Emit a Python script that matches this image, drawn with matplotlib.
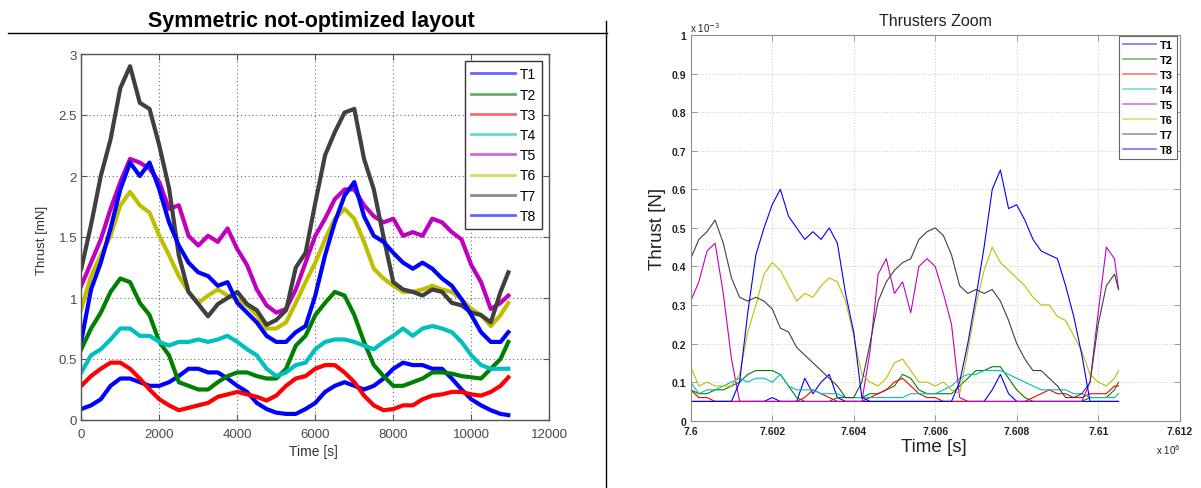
import matplotlib
matplotlib.use("Agg")
import matplotlib.pyplot as plt
import numpy as np
from matplotlib.lines import Line2D

plt.rcParams["font.family"] = ["Liberation Sans", "DejaVu Sans"]

# ---------------- left panel: full simulation, thrust in mN ----------------
TIME_L = [0, 250, 500, 750, 1000, 1250, 1500, 1750, 2000, 2250, 2500, 2750,
          3000, 3250, 3500, 3750, 4000, 4250, 4500, 4750, 5000, 5250, 5500,
          5750, 6000, 6250, 6500, 6750, 7000, 7250, 7500, 7750, 8000, 8250,
          8500, 8750, 9000, 9250, 9500, 9750, 10000, 10250, 10500, 10750, 10950]

T1_L = [0.09, 0.12, 0.17, 0.28, 0.34, 0.34, 0.31, 0.28, 0.28, 0.31, 0.36, 0.42,
        0.42, 0.39, 0.39, 0.34, 0.28, 0.23, 0.14, 0.09, 0.06, 0.05, 0.05, 0.09,
        0.14, 0.23, 0.28, 0.31, 0.28, 0.25, 0.28, 0.34, 0.42, 0.47, 0.45, 0.45,
        0.42, 0.42, 0.34, 0.25, 0.17, 0.12, 0.08, 0.05, 0.04]
T2_L = [0.58, 0.75, 0.88, 1.05, 1.16, 1.13, 0.96, 0.86, 0.64, 0.53, 0.31, 0.28,
        0.25, 0.25, 0.31, 0.36, 0.39, 0.39, 0.36, 0.34, 0.34, 0.42, 0.61, 0.69,
        0.86, 0.96, 1.05, 1.02, 0.86, 0.64, 0.45, 0.36, 0.28, 0.28, 0.31, 0.34,
        0.39, 0.39, 0.38, 0.36, 0.35, 0.34, 0.42, 0.50, 0.64]
T3_L = [0.28, 0.36, 0.42, 0.47, 0.47, 0.42, 0.34, 0.25, 0.17, 0.12, 0.08, 0.10,
        0.12, 0.14, 0.19, 0.21, 0.23, 0.21, 0.19, 0.16, 0.20, 0.28, 0.34, 0.36,
        0.42, 0.45, 0.45, 0.39, 0.31, 0.20, 0.12, 0.08, 0.09, 0.12, 0.12, 0.17,
        0.20, 0.21, 0.23, 0.23, 0.21, 0.20, 0.23, 0.28, 0.35]
T4_L = [0.39, 0.53, 0.58, 0.66, 0.75, 0.75, 0.69, 0.69, 0.64, 0.61, 0.64, 0.64,
        0.66, 0.64, 0.66, 0.69, 0.64, 0.58, 0.53, 0.42, 0.36, 0.39, 0.45, 0.47,
        0.58, 0.64, 0.66, 0.66, 0.64, 0.61, 0.58, 0.64, 0.69, 0.75, 0.69, 0.75,
        0.77, 0.75, 0.72, 0.64, 0.53, 0.45, 0.42, 0.42, 0.42]
T5_L = [1.10, 1.29, 1.48, 1.73, 1.95, 2.14, 2.11, 2.06, 1.95, 1.73, 1.76, 1.51,
        1.43, 1.51, 1.46, 1.57, 1.40, 1.27, 1.07, 0.94, 0.88, 0.91, 1.07, 1.29,
        1.51, 1.65, 1.81, 1.89, 1.89, 1.76, 1.67, 1.62, 1.65, 1.51, 1.54, 1.51,
        1.65, 1.62, 1.54, 1.48, 1.27, 1.13, 0.91, 0.96, 1.02]
T6_L = [0.91, 1.18, 1.35, 1.51, 1.76, 1.87, 1.76, 1.70, 1.51, 1.35, 1.18, 1.05,
        0.96, 1.02, 1.07, 1.02, 0.99, 0.94, 0.86, 0.75, 0.75, 0.80, 0.96, 1.13,
        1.29, 1.48, 1.65, 1.73, 1.65, 1.46, 1.24, 1.16, 1.10, 1.05, 1.05, 1.07,
        1.10, 1.07, 1.05, 0.99, 0.91, 0.86, 0.77, 0.86, 0.96]
T7_L = [1.24, 1.60, 2.00, 2.30, 2.72, 2.90, 2.60, 2.55, 2.25, 1.90, 1.35, 1.05,
        0.95, 0.85, 0.95, 1.00, 1.05, 0.95, 0.90, 0.78, 0.82, 0.90, 1.25, 1.37,
        1.78, 2.17, 2.36, 2.52, 2.55, 2.14, 1.89, 1.50, 1.13, 1.07, 1.05, 1.02,
        1.07, 1.05, 0.96, 0.94, 0.88, 0.86, 0.80, 1.05, 1.21]
T8_L = [0.65, 1.07, 1.29, 1.57, 1.89, 2.11, 2.00, 2.11, 1.89, 1.62, 1.43, 1.29,
        1.21, 1.18, 1.10, 1.13, 0.96, 0.88, 0.80, 0.69, 0.64, 0.64, 0.72, 0.77,
        1.02, 1.35, 1.62, 1.84, 1.95, 1.67, 1.51, 1.46, 1.37, 1.29, 1.24, 1.29,
        1.24, 1.16, 1.10, 0.99, 0.86, 0.72, 0.64, 0.64, 0.72]

# ---------------- right panel: zoom, time in 1e6 s, thrust in 1e-3 N ----------------
TIME_R = list(np.round(7.6 + 0.0002 * np.arange(53), 4)) + [7.6105]

T1_R = [0.05, 0.05, 0.05, 0.05, 0.05, 0.05, 0.05, 0.05, 0.05, 0.05,
        0.06, 0.05, 0.05, 0.05, 0.11, 0.07, 0.10, 0.12, 0.06, 0.05,
        0.05, 0.05, 0.05, 0.05, 0.05, 0.05, 0.05, 0.05, 0.05, 0.05,
        0.05, 0.05, 0.05, 0.05, 0.05, 0.05, 0.05, 0.08, 0.12, 0.07,
        0.05, 0.05, 0.05, 0.05, 0.05, 0.05, 0.05, 0.05, 0.05, 0.05,
        0.05, 0.05, 0.05, 0.05]
T2_R = [0.08, 0.07, 0.07, 0.08, 0.08, 0.09, 0.10, 0.12, 0.13, 0.13,
        0.13, 0.12, 0.09, 0.06, 0.05, 0.05, 0.05, 0.05, 0.06, 0.06,
        0.06, 0.06, 0.07, 0.07, 0.08, 0.09, 0.12, 0.11, 0.08, 0.07,
        0.07, 0.07, 0.07, 0.09, 0.11, 0.13, 0.13, 0.14, 0.14, 0.11,
        0.08, 0.06, 0.05, 0.05, 0.05, 0.05, 0.05, 0.05, 0.05, 0.06,
        0.06, 0.06, 0.08, 0.10]
T3_R = [0.08, 0.06, 0.06, 0.05, 0.05, 0.05, 0.05, 0.05, 0.05, 0.05,
        0.05, 0.05, 0.05, 0.05, 0.06, 0.08, 0.07, 0.06, 0.05, 0.05,
        0.05, 0.05, 0.06, 0.07, 0.08, 0.10, 0.11, 0.09, 0.07, 0.06,
        0.06, 0.05, 0.05, 0.05, 0.05, 0.05, 0.05, 0.05, 0.05, 0.05,
        0.05, 0.05, 0.06, 0.07, 0.08, 0.07, 0.07, 0.06, 0.06, 0.07,
        0.07, 0.07, 0.09, 0.09]
T4_R = [0.10, 0.07, 0.08, 0.08, 0.09, 0.10, 0.11, 0.10, 0.11, 0.11,
        0.10, 0.12, 0.09, 0.08, 0.08, 0.08, 0.07, 0.07, 0.07, 0.06,
        0.06, 0.06, 0.06, 0.06, 0.06, 0.06, 0.06, 0.07, 0.07, 0.07,
        0.07, 0.08, 0.09, 0.11, 0.12, 0.12, 0.13, 0.13, 0.13, 0.12,
        0.11, 0.10, 0.09, 0.08, 0.08, 0.08, 0.08, 0.07, 0.07, 0.06,
        0.06, 0.06, 0.06, 0.07]
T5_R = [0.31, 0.36, 0.44, 0.46, 0.33, 0.16, 0.05, 0.05, 0.05, 0.05,
        0.05, 0.05, 0.05, 0.05, 0.05, 0.05, 0.05, 0.05, 0.05, 0.05,
        0.05, 0.05, 0.18, 0.38, 0.42, 0.33, 0.36, 0.28, 0.40, 0.42,
        0.40, 0.33, 0.25, 0.06, 0.05, 0.05, 0.05, 0.05, 0.05, 0.05,
        0.05, 0.05, 0.05, 0.05, 0.05, 0.05, 0.05, 0.05, 0.05, 0.10,
        0.28, 0.45, 0.42, 0.34]
T6_R = [0.14, 0.09, 0.10, 0.09, 0.09, 0.09, 0.12, 0.23, 0.30, 0.38,
        0.41, 0.39, 0.35, 0.31, 0.33, 0.32, 0.35, 0.37, 0.36, 0.31,
        0.22, 0.12, 0.10, 0.09, 0.11, 0.15, 0.16, 0.13, 0.10, 0.10,
        0.09, 0.10, 0.08, 0.07, 0.18, 0.30, 0.39, 0.45, 0.41, 0.39,
        0.37, 0.35, 0.32, 0.30, 0.30, 0.27, 0.26, 0.22, 0.18, 0.12,
        0.10, 0.09, 0.11, 0.13]
T7_R = [0.42, 0.47, 0.49, 0.52, 0.46, 0.37, 0.32, 0.31, 0.32, 0.31,
        0.29, 0.24, 0.23, 0.19, 0.17, 0.15, 0.13, 0.11, 0.09, 0.06,
        0.06, 0.10, 0.20, 0.31, 0.36, 0.39, 0.41, 0.42, 0.47, 0.49,
        0.50, 0.48, 0.43, 0.35, 0.33, 0.34, 0.33, 0.34, 0.31, 0.26,
        0.20, 0.16, 0.13, 0.13, 0.11, 0.09, 0.06, 0.06, 0.07, 0.10,
        0.25, 0.35, 0.38, 0.34]
T8_R = [0.05, 0.05, 0.05, 0.05, 0.05, 0.05, 0.10, 0.28, 0.43, 0.50,
        0.56, 0.60, 0.53, 0.50, 0.47, 0.49, 0.47, 0.50, 0.46, 0.33,
        0.23, 0.06, 0.05, 0.05, 0.05, 0.05, 0.05, 0.05, 0.05, 0.05,
        0.05, 0.05, 0.05, 0.10, 0.20, 0.32, 0.45, 0.60, 0.65, 0.55,
        0.56, 0.52, 0.47, 0.44, 0.43, 0.42, 0.35, 0.27, 0.17, 0.05,
        0.05, 0.05, 0.05, 0.05]

LABELS = ["T1", "T2", "T3", "T4", "T5", "T6", "T7", "T8"]
COLORS = ["#0000ff", "#008000", "#ff0000", "#00bfbf",
          "#bf00bf", "#bfbf00", "#404040", "#0000ff"]

W, H = 1201, 489
fig = plt.figure(figsize=(W / 100, H / 100), dpi=100)


def fx(px):
    return px / W


def fy(py):
    return 1 - py / H


# ---- left axes ----
axL = fig.add_axes([fx(81.3), fy(421), 468 / W, 366 / H])
for lab, vals, col in zip(LABELS, [T1_L, T2_L, T3_L, T4_L, T5_L, T6_L, T7_L, T8_L], COLORS):
    axL.plot(TIME_L, vals, color=col, lw=3.0, label=lab, solid_joinstyle="round")
axL.set_xlim(0, 12000)
axL.set_ylim(0, 3)
axL.set_xticks(range(0, 12001, 2000))
axL.set_yticks([0, 0.5, 1, 1.5, 2, 2.5, 3])
axL.set_yticklabels(["0", "0.5", "1", "1.5", "2", "2.5", "3"])
axL.tick_params(direction="in", top=True, right=True, length=4, width=0.8,
                labelsize=9.5, labelcolor="#4a4a4a", color="#555555")
axL.tick_params(axis="x", pad=6)
axL.tick_params(axis="y", pad=3)
for sp in axL.spines.values():
    sp.set_color("#555555")
    sp.set_linewidth(1.0)
axL.grid(True, linestyle=(0, (1, 2.5)), color="#6a6a6a", lw=0.8)
legL = axL.legend(loc="upper right", bbox_to_anchor=(fx(542), fy(62)),
                  bbox_transform=fig.transFigure, fontsize=10, frameon=True,
                  fancybox=False, edgecolor="#333333", framealpha=1,
                  handlelength=3.1, handletextpad=0.35, labelspacing=0.45,
                  borderpad=0.45, borderaxespad=0)
legL.get_frame().set_linewidth(1.0)
for h in legL.get_lines():
    h.set_linewidth(2.0)
    h.set_alpha(0.6)
fig.text(fx(313), fy(452), "Time [s]", ha="center", va="center", fontsize=10, color="#333333")
fig.text(fx(42), fy(240), "Thrust [mN]", ha="center", va="center", rotation=90,
         fontsize=9.5, color="#333333")

fig.text(fx(311), fy(21), "Symmetric not-optimized layout", ha="center", va="center",
         fontsize=15.5, fontweight="bold", color="black")
fig.add_artist(Line2D([fx(8), fx(607)], [fy(33.5), fy(33.5)], color="black", lw=1.0))
fig.add_artist(Line2D([fx(605.5), fx(605.5)], [fy(22), fy(489)], color="black", lw=1.0))

# ---- right axes ----
axR = fig.add_axes([fx(690.7), fy(421.7), 489 / W, 385.7 / H])
for lab, vals, col in zip(LABELS, [T1_R, T2_R, T3_R, T4_R, T5_R, T6_R, T7_R, T8_R], COLORS):
    axR.plot(TIME_R, vals, color=col, lw=0.8, label=lab)
axR.set_xlim(7.6, 7.612)
axR.set_ylim(0, 1)
axR.set_xticks([7.6, 7.602, 7.604, 7.606, 7.608, 7.61, 7.612])
axR.set_xticklabels(["7.6", "7.602", "7.604", "7.606", "7.608", "7.61", "7.612"])
axR.set_yticks([0, 0.1, 0.2, 0.3, 0.4, 0.5, 0.6, 0.7, 0.8, 0.9, 1])
axR.set_yticklabels(["0", "0.1", "0.2", "0.3", "0.4", "0.5", "0.6", "0.7", "0.8", "0.9", "1"])
axR.tick_params(direction="in", top=True, right=True, length=4, width=0.6,
                labelsize=7.5, labelcolor="#222222", color="#888888")
for t in axR.get_xticklabels() + axR.get_yticklabels():
    t.set_fontweight("bold")
axR.tick_params(axis="x", pad=4)
axR.tick_params(axis="y", pad=3)
for sp in axR.spines.values():
    sp.set_color("#8c8c8c")
    sp.set_linewidth(0.8)
axR.grid(True, linestyle=(0, (1, 2)), color="#c8c8c8", lw=0.7)
legR = axR.legend(loc="upper right", bbox_to_anchor=(fx(1177), fy(37)),
                  bbox_transform=fig.transFigure, fontsize=8, frameon=True,
                  fancybox=False, edgecolor="#666666", framealpha=1,
                  handlelength=3.0, handletextpad=0.35, labelspacing=0.45,
                  borderpad=0.35, borderaxespad=0)
legR.get_frame().set_linewidth(0.8)
for t in legR.get_texts():
    t.set_fontweight("bold")
for h in legR.get_lines():
    h.set_alpha(0.55)
    h.set_linewidth(1.2)
fig.text(fx(935), fy(21), "Thrusters Zoom", ha="center", va="center", fontsize=11.5, color="#222222")
fig.text(fx(934), fy(447), "Time [s]", ha="center", va="center", fontsize=13.5, color="#222222")
fig.text(fx(658), fy(229), "Thrust [N]", ha="center", va="center", rotation=90,
         fontsize=13.5, color="#222222")
fig.text(fx(690), fy(28), r"x 10$^{-3}$", ha="left", va="center", fontsize=7, color="#222222")
fig.text(fx(1156), fy(450), r"x 10$^{6}$", ha="left", va="center", fontsize=7, color="#222222")

fig.savefig("out.png", dpi=100, facecolor="white")
